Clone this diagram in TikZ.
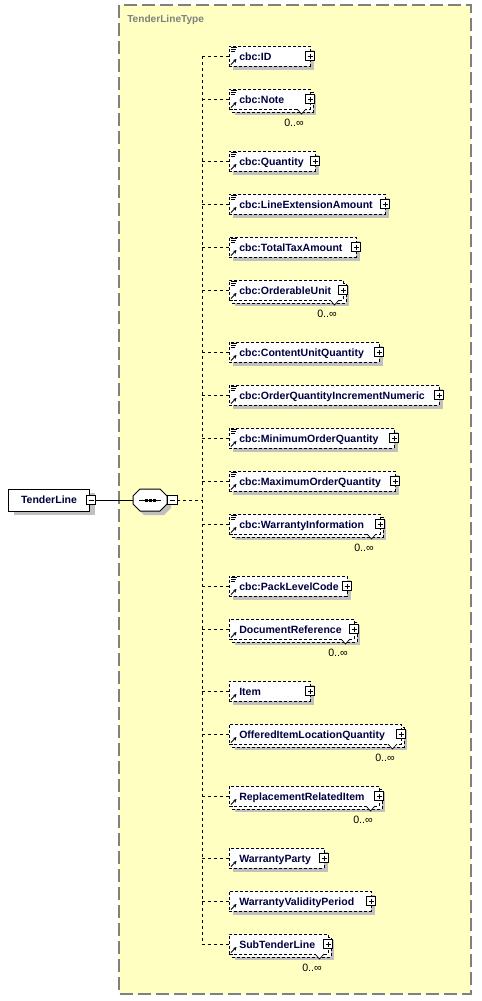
\documentclass[tikz,border=0pt]{standalone}
\usepackage{fontspec}
\setmainfont{Liberation Sans}
\usepackage{tikz}
\usetikzlibrary{arrows.meta,calc}

\tikzset{
  typebox/.style={draw={rgb, 255:red, 128; green, 128; blue, 128}, fill={rgb, 255:red, 255; green, 255; blue, 194}, line width=1.1pt, dash pattern=on 9.75pt off 3.75pt},
  typetitle/.style={anchor=base west, inner sep=0.75pt, font=\bfseries\fontsize{7.6pt}{9pt}\selectfont, text={rgb, 255:red, 128; green, 128; blue, 128}},
  elembox/.style={draw, fill=white, line width=0.65pt, dash pattern=on 2.25pt off 1.5pt, inner sep=0pt, minimum height=15pt},
  elemshadow/.style={fill={rgb, 255:red, 192; green, 192; blue, 192}},
  elemlabel/.style={anchor=base west, inner sep=0.75pt, font=\bfseries\fontsize{7.9pt}{9.6pt}\selectfont, text={rgb, 255:red, 0; green, 0; blue, 64}},
  rootbox/.style={draw, fill=white, line width=0.75pt, inner sep=0.75pt, minimum width=60.75pt, minimum height=16.5pt, font=\bfseries\fontsize{7.9pt}{9.6pt}\selectfont, text={rgb, 255:red, 0; green, 0; blue, 64}},
  plusbox/.style={draw, fill=white, line width=0.6pt, inner sep=0pt, minimum size=7pt},
  seqbox/.style={inner sep=0pt, minimum width=25.5pt, minimum height=16.5pt},
  branch/.style={line width=0.75pt, dash pattern=on 2.25pt off 2.25pt},
  refarrow/.style={line width=0.7pt, -{Stealth[length=2.6pt,width=2.6pt]}},
  iconline/.style={line width=0.55pt},
  notch/.style={fill=white, line width=0.5pt},
  multlabel/.style={anchor=base, inner sep=0.75pt, font=\fontsize{8pt}{9.6pt}\selectfont},
}

% element box with plus sign, reference arrow and branch from the trunk
\newcommand{\xsdcore}[4]{%
  \node[elembox, anchor=west, minimum width={(#3-229)*0.75pt}] (#1) at (229,#2) {};
  \node[elemlabel] (#1-name) at (238,#2+4) {#4};
  \node[plusbox] (#1-plus) at (#3,#2) {};
  \draw[line width=0.6pt] (#3-2.5,#2) -- (#3+2.5,#2) (#3,#2-2.5) -- (#3,#2+2.5);
  \draw[refarrow] (231,#2+8.5) -- (236.5,#2+3);
  \coordinate (j-#1) at (202,#2);
  \draw[branch] (j-#1) -- (#1);
}
\newcommand{\xsdelem}[4]{%
  \fill[elemshadow] (233,#2-6) rectangle (#3+4,#2+14);
  \xsdcore{#1}{#2}{#3}{#4}
}
\newcommand{\xsdmulti}[4]{%
  \fill[elemshadow] (235,#2-4) rectangle (#3+6,#2+16);
  \draw[elembox] (232,#2-7) rectangle (#3+3,#2+13);
  \xsdcore{#1}{#2}{#3}{#4}
  \filldraw[notch] (#3-13,#2+10) -- (#3-8.5,#2+15) -- (#3-4,#2+10);
  \node[multlabel] (#1-mult) at (#3-16,#2+27) {0..∞};
}
\newcommand{\cbcicon}[1]{%
  \draw[iconline] (231,#1-9) -- (237,#1-9) (231,#1-7) -- (236,#1-7) (231,#1-5) -- (235,#1-5);
}

\begin{document}
\begin{tikzpicture}[x=0.75pt,y=0.75pt,yscale=-1,xscale=1]
  \useasboundingbox (0,0) rectangle (482,1001);

  %Complex type frame
  \draw[typebox] (119,5) rectangle (471,994);
  \node[typetitle] (title) at (126,22) {TenderLineType};

  %Root element
  \fill[elemshadow] (14,493) rectangle (95,515);
  \node[rootbox] (tenderline) at (49,500) {TenderLine};
  \node[plusbox] (tenderline-minus) at (91,500) {};
  \draw[line width=0.6pt] (88.5,500) -- (93.5,500);

  %Sequence compositor
  \fill[elemshadow] (144,493) -- (164,493) -- (171,500) -- (171,508) -- (164,515) -- (144,515) -- (137,508) -- (137,500) -- cycle;
  \draw[fill=white, line width=0.75pt] (140,489) -- (160,489) -- (167,496) -- (167,504) -- (160,511) -- (140,511) -- (133,504) -- (133,496) -- cycle;
  \node[seqbox] (seq) at (150,500) {};
  \draw[line width=0.75pt] (139,500) -- (161,500);
  \fill (144.5,498.5) rectangle (147.5,501.5);
  \fill (148.5,498.5) rectangle (151.5,501.5);
  \fill (152.5,498.5) rectangle (155.5,501.5);
  \node[plusbox, anchor=west] (seq-minus) at (seq.east) {};
  \draw[line width=0.6pt] ($(seq-minus.center)+(-2.5,0)$) -- ($(seq-minus.center)+(2.5,0)$);
  \draw[line width=0.75pt] (tenderline-minus) -- (seq);

  %Children
  \xsdelem{id}{56}{310}{cbc:ID} \cbcicon{56}
  \xsdmulti{note}{99}{310}{cbc:Note} \cbcicon{99}
  \xsdelem{quantity}{161}{315}{cbc:Quantity} \cbcicon{161}
  \xsdelem{lineext}{204}{385}{cbc:LineExtensionAmount} \cbcicon{204}
  \xsdelem{totaltax}{247}{356}{cbc:TotalTaxAmount} \cbcicon{247}
  \xsdmulti{orderable}{290}{343}{cbc:OrderableUnit} \cbcicon{290}
  \xsdelem{contentunit}{352}{379}{cbc:ContentUnitQuantity} \cbcicon{352}
  \xsdelem{orderincr}{395}{439}{cbc:OrderQuantityIncrementNumeric} \cbcicon{395}
  \xsdelem{minorder}{438}{394}{cbc:MinimumOrderQuantity} \cbcicon{438}
  \xsdelem{maxorder}{481}{395}{cbc:MaximumOrderQuantity} \cbcicon{481}
  \xsdmulti{warrantyinfo}{524}{380}{cbc:WarrantyInformation} \cbcicon{524}
  \xsdelem{packlevel}{586}{347}{cbc:PackLevelCode} \cbcicon{586}
  \xsdmulti{docref}{629}{354}{DocumentReference}
  \xsdelem{item}{691}{310}{Item}
  \xsdmulti{offered}{734}{401}{OfferedItemLocationQuantity}
  \xsdmulti{replacement}{796}{379}{ReplacementRelatedItem}
  \xsdelem{warrantyparty}{858}{324}{WarrantyParty}
  \xsdelem{warrantyvalidity}{901}{371}{WarrantyValidityPeriod}
  \xsdmulti{subtender}{944}{328}{SubTenderLine}

  %Trunk
  \coordinate (j-seq) at (202,500);
  \draw[branch] (j-id) -- (j-subtender);
  \draw[branch] (seq-minus) -- (j-seq);

\end{tikzpicture}
\end{document}
